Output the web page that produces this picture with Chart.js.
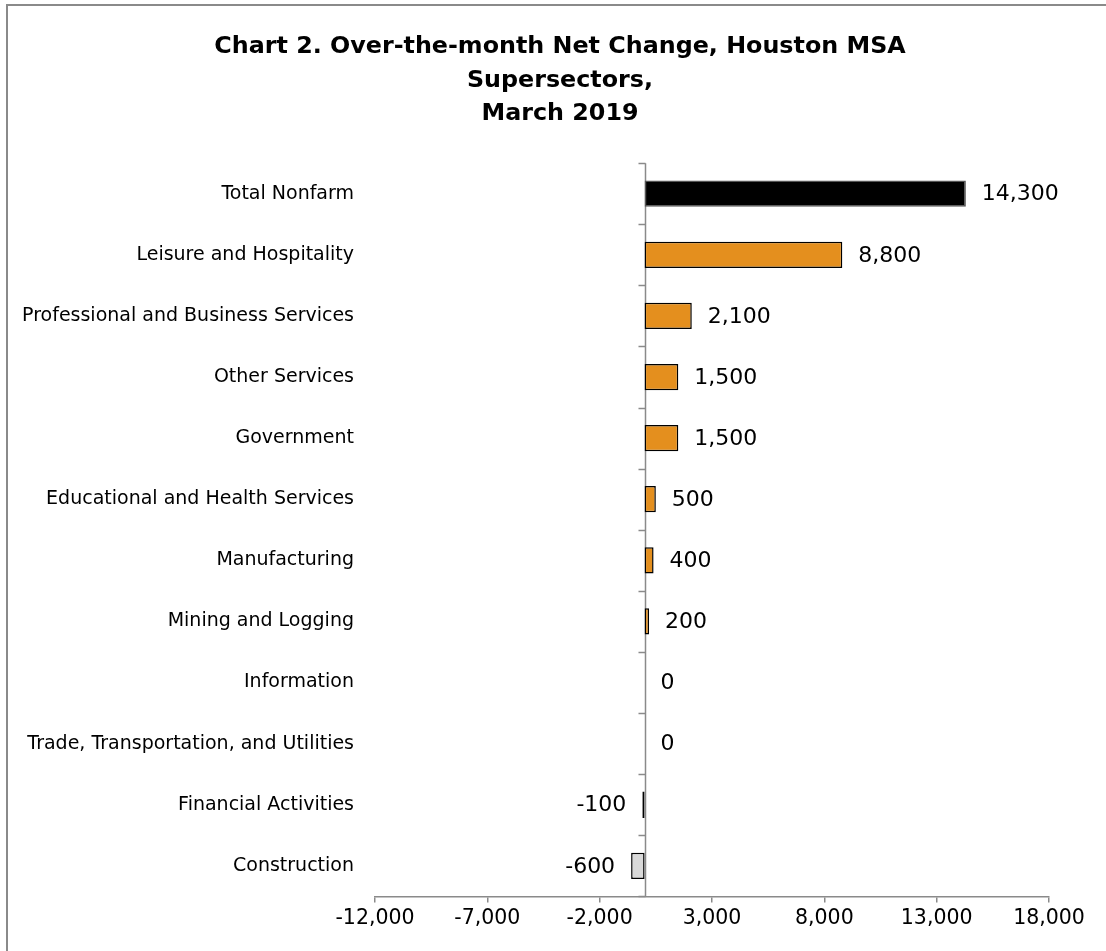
<!DOCTYPE html>
<html>
<head>
<meta charset="utf-8">
<script src="https://cdn.jsdelivr.net/npm/chart.js@4.4.1/dist/chart.umd.min.js"></script>
<style>
  html, body { margin: 0; padding: 0; background: #fff; overflow: hidden; }
  #frame {
    position: absolute; left: 6px; top: 4px;
    width: 1130px; height: 980px;
    border: 2px solid #8a8a8a;
  }
  #wrap { position: absolute; left: 8px; top: 0; width: 1104px; height: 951px; }
</style>
</head>
<body>
<div id="frame"></div>
<div id="wrap"><canvas id="chart"></canvas></div>
<script>
// Houston MSA supersectors, over-the-month net change, March 2019
const categories = [
  'Total Nonfarm',
  'Leisure and Hospitality',
  'Professional and Business Services',
  'Other Services',
  'Government',
  'Educational and Health Services',
  'Manufacturing',
  'Mining and Logging',
  'Information',
  'Trade, Transportation, and Utilities',
  'Financial Activities',
  'Construction'
];
const netChange = [14300, 8800, 2100, 1500, 1500, 500, 400, 200, 0, 0, -100, -600];
const xTicks = [-12000, -7000, -2000, 3000, 8000, 13000, 18000];
const titleLines = ['Chart 2. Over-the-month Net Change, Houston MSA', 'Supersectors,', 'March 2019'];

const FONT = '"DejaVu Sans", Verdana, sans-serif';
const AXIS_GREY = '#8a8a8a';

const barColors = netChange.map((v, i) => {
  if (i === 0) return '#000000';
  return v < 0 ? '#d9d9d9' : '#e48f1e';
});
const barBorders = netChange.map((v, i) => (i === 0 ? '#555555' : '#000000'));

// zero line with tick marks between categories
const zeroAxis = {
  id: 'zeroAxis',
  beforeDatasetsDraw(chart) {
    const { ctx, chartArea, scales } = chart;
    const x0 = Math.round(scales.x.getPixelForValue(0)) + 0.5;
    ctx.save();
    ctx.strokeStyle = AXIS_GREY;
    ctx.lineWidth = 1.5;
    ctx.beginPath();
    ctx.moveTo(x0, chartArea.top);
    ctx.lineTo(x0, chartArea.bottom);
    for (let i = 0; i <= categories.length; i++) {
      const y = Math.round(scales.y.getPixelForValue(i - 0.5)) + 0.5;
      ctx.moveTo(x0 - 7, y);
      ctx.lineTo(x0, y);
    }
    ctx.stroke();
    ctx.restore();
  }
};

const valueLabels = {
  id: 'valueLabels',
  afterDatasetsDraw(chart) {
    const { ctx } = chart;
    const meta = chart.getDatasetMeta(0);
    ctx.save();
    ctx.font = '22px ' + FONT;
    ctx.fillStyle = '#000';
    ctx.textBaseline = 'middle';
    meta.data.forEach((bar, i) => {
      const v = netChange[i];
      const txt = v.toLocaleString('en-US');
      if (v < 0) {
        ctx.textAlign = 'right';
        ctx.fillText(txt, bar.x - 16, bar.y + 1);
      } else {
        ctx.textAlign = 'left';
        ctx.fillText(txt, bar.x + 16, bar.y + 1);
      }
    });
    ctx.restore();
  }
};

new Chart(document.getElementById('chart'), {
  type: 'bar',
  data: {
    labels: categories,
    datasets: [{
      data: netChange,
      backgroundColor: barColors,
      borderColor: barBorders,
      borderWidth: 1.5,
      borderSkipped: false,
      barPercentage: 0.43,
      categoryPercentage: 1
    }]
  },
  options: {
    indexAxis: 'y',
    responsive: true,
    maintainAspectRatio: false,
    animation: false,
    layout: { padding: { left: 0, right: 0, top: 0, bottom: 16 } },
    plugins: {
      legend: { display: false },
      tooltip: { enabled: false },
      title: {
        display: true,
        text: titleLines,
        color: '#000',
        font: { family: FONT, size: 23.8, weight: 'bold', lineHeight: 1.41 },
        padding: { top: 30, bottom: 32.5 }
      }
    },
    scales: {
      x: {
        min: -12000,
        max: 18000,
        afterBuildTicks(scale) {
          scale.ticks = xTicks.map(v => ({ value: v }));
        },
        grid: { drawOnChartArea: false, drawTicks: true, tickLength: 6, color: AXIS_GREY, lineWidth: 1.5 },
        border: { display: true, color: AXIS_GREY, width: 1.5 },
        ticks: {
          color: '#000',
          padding: 4,
          maxRotation: 0,
          font: { family: FONT, size: 20.5 },
          callback: v => Number(v).toLocaleString('en-US')
        }
      },
      y: {
        afterFit(scale) { scale.width = 367; },
        grid: { display: false, drawTicks: false },
        border: { display: false },
        ticks: {
          color: '#000',
          padding: 21,
          font: { family: FONT, size: 19 }
        }
      },
      // empty right-hand axis that only reserves room for the value labels
      yRight: {
        type: 'category',
        position: 'right',
        afterFit(scale) { scale.width = 63; },
        grid: { display: false, drawTicks: false },
        border: { display: false },
        ticks: { display: false }
      }
    }
  },
  plugins: [zeroAxis, valueLabels]
});
</script>
</body>
</html>
